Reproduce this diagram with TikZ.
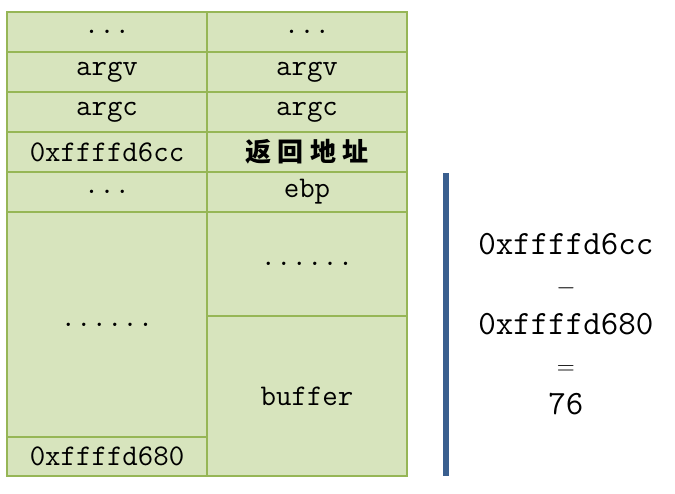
\documentclass[tikz,border=0pt]{standalone}
\usepackage{fontspec}
\newfontfamily\cjk[LetterSpace=25]{Noto Sans CJK SC}
\usetikzlibrary{positioning}
\definecolor{cellfill}{RGB}{215,228,189}
\definecolor{cellline}{RGB}{150,182,86}
\definecolor{barblue}{RGB}{58,95,143}

\begin{document}
\begin{tikzpicture}[x=1pt,y=-1pt,node distance=0pt,
  cell/.style={draw=cellline,fill=cellfill,line width=1.5pt,outer sep=0pt,
    inner sep=0pt,minimum width=200pt,minimum height=40pt,
    font=\fontsize{30}{34}\selectfont\ttfamily}]
   \useasboundingbox (0,0) rectangle (675,494);
   % left column: addresses
   \node[cell,anchor=north west] (a_1) at (7,12) {...};
   \node[cell]                   (a_2) [below=of a_1] {argv};
   \node[cell]                   (a_3) [below=of a_2] {argc};
   \node[cell]                   (a_4) [below=of a_3] {0xffffd6cc};
   \node[cell]                   (a_5) [below=of a_4] {...};
   \node[cell,minimum height=225pt] (a_6) [below=of a_5] {......};
   \node[cell,minimum height=39pt]  (a_7) [below=of a_6] {0xffffd680};
   % right column: contents
   \node[cell] (s_1) [right=of a_1] {...};
   \node[cell] (s_2) [below=of s_1] {argv};
   \node[cell] (s_3) [below=of s_2] {argc};
   \node[cell] (s_4) [below=of s_3] {\fontsize{26}{30}\selectfont\cjk\bfseries 返回地址};
   \node[cell] (s_5) [below=of s_4] {ebp};
   \node[cell,minimum height=104pt] (s_6) [below=of s_5] {......};
   \node[cell,minimum height=160pt] (s_7) [below=of s_6] {buffer};
   % offset
   \node[fill=barblue,inner sep=0pt,minimum width=6pt,minimum height=302pt]
        (bar) at (446,324.5) {};
   \node[inner sep=0pt,align=center,font=\fontsize{34}{40}\selectfont\ttfamily]
        (diff) [right=29pt of bar]
        {0xffffd6cc\\$-$\\0xffffd680\\$=$\\76};
\end{tikzpicture}
\end{document}
